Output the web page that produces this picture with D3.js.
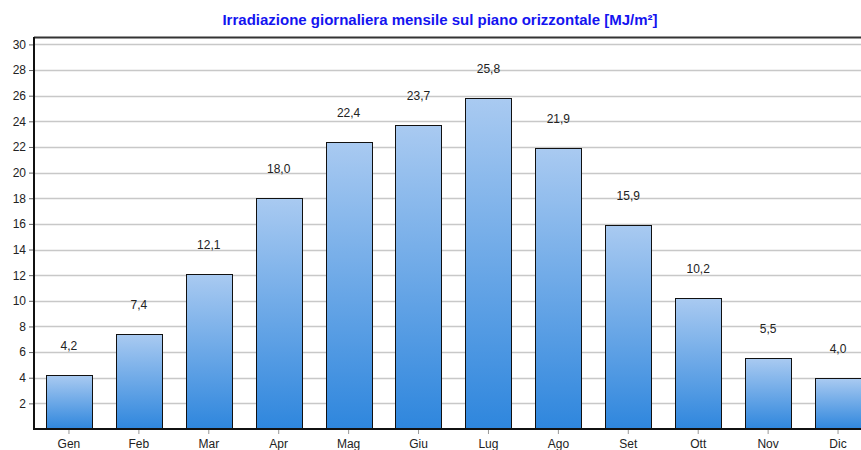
<!DOCTYPE html>
<html>
<head>
<meta charset="utf-8">
<script src="https://cdn.jsdelivr.net/npm/d3@7"></script>
<style>
  body { margin: 0; background: #fff; }
  svg text { font-family: "Liberation Sans", Arial, sans-serif; }
</style>
</head>
<body>
<svg id="chart" width="861" height="450"></svg>
<script>
// chart data
const months = ['Gen','Feb','Mar','Apr','Mag','Giu','Lug','Ago','Set','Ott','Nov','Dic'];
const values = [4.2, 7.4, 12.1, 18.0, 22.4, 23.7, 25.8, 21.9, 15.9, 10.2, 5.5, 4.0];
const yTicks = [2,4,6,8,10,12,14,16,18,20,22,24,26,28,30];
const title = 'Irradiazione giornaliera mensile sul piano orizzontale [MJ/m²]';

let svg = d3.select('#chart');
let margins = {left: 34, right: -12, top: 38, bottom: 21};
let width = 861, height = 450;

// scales
let xScale = d3.scaleBand()
    .domain(months)
    .range([margins.left, width - margins.right])
    .paddingInner(0.34)
    .paddingOuter(0.17);
let yScale = d3.scaleLinear()
    .domain([0, 30.5])
    .range([height - margins.bottom, margins.top]);

// gradient for bars
let defs = svg.append('defs');
let grad = defs.append('linearGradient')
    .attr('id', 'barGrad')
    .attr('x1', 0).attr('y1', 0).attr('x2', 0).attr('y2', 1);
grad.append('stop').attr('offset', '0%').attr('stop-color', '#a9caf1');
grad.append('stop').attr('offset', '100%').attr('stop-color', '#2e86dd');

// grid lines
svg.append('g')
    .selectAll('line')
    .data(yTicks)
    .enter()
        .append('line')
        .attr('x1', margins.left)
        .attr('x2', width)
        .attr('y1', d => Math.round(yScale(d)) + 0.5)
        .attr('y2', d => Math.round(yScale(d)) + 0.5)
        .attr('stroke', '#c8c8c8')
        .attr('stroke-width', 1.5);

// top border
svg.append('line')
    .attr('x1', margins.left).attr('x2', width)
    .attr('y1', margins.top - 0.5).attr('y2', margins.top - 0.5)
    .attr('stroke', '#333').attr('stroke-width', 2);

// bars
svg.append('g')
    .selectAll('rect')
    .data(values)
    .enter()
        .append('rect')
        .attr('x', (d, i) => Math.round(xScale(months[i])) + 0.5)
        .attr('y', d => Math.round(yScale(d)) + 0.5)
        .attr('width', Math.round(xScale.bandwidth()))
        .attr('height', d => yScale(0) - Math.round(yScale(d)))
        .attr('fill', 'url(#barGrad)')
        .attr('stroke', '#111')
        .attr('stroke-width', 1);

// value labels
svg.append('g')
    .selectAll('text')
    .data(values)
    .enter()
        .append('text')
        .attr('x', (d, i) => xScale(months[i]) + xScale.bandwidth() / 2)
        .attr('y', d => yScale(d) - 25)
        .attr('text-anchor', 'middle')
        .style('font-size', '12px')
        .attr('fill', '#222')
        .text(d => d.toFixed(1).replace('.', ','));

// y axis
let yAxis = svg.append('g')
    .attr('transform', 'translate(' + margins.left + ',0)')
    .call(d3.axisLeft(yScale).tickValues(yTicks).tickSize(5).tickPadding(3));
yAxis.select('.domain').remove();
yAxis.selectAll('.tick line').attr('stroke', '#666');
yAxis.selectAll('text').style('font-size', '12px').attr('fill', '#222')
    .style('font-family', '"Liberation Sans", Arial, sans-serif');

// x axis
let xAxis = svg.append('g')
    .attr('transform', 'translate(0,' + (height - margins.bottom) + ')')
    .call(d3.axisBottom(xScale).tickSize(5).tickPadding(5));
xAxis.select('.domain').remove();
xAxis.selectAll('.tick line').attr('stroke', '#999');
xAxis.selectAll('text').style('font-size', '12px').attr('fill', '#222')
    .style('font-family', '"Liberation Sans", Arial, sans-serif');

// axis lines
svg.append('line')
    .attr('x1', margins.left).attr('x2', margins.left)
    .attr('y1', margins.top - 1).attr('y2', yScale(0) + 1)
    .attr('stroke', '#111').attr('stroke-width', 2);
svg.append('line')
    .attr('x1', margins.left - 1).attr('x2', width)
    .attr('y1', yScale(0)).attr('y2', yScale(0))
    .attr('stroke', '#111').attr('stroke-width', 2);

// title
svg.append('text')
    .attr('x', 440)
    .attr('y', 25)
    .attr('text-anchor', 'middle')
    .style('font-size', '15px')
    .style('font-weight', 'bold')
    .attr('fill', '#1414f0')
    .text(title);
</script>
</body>
</html>
